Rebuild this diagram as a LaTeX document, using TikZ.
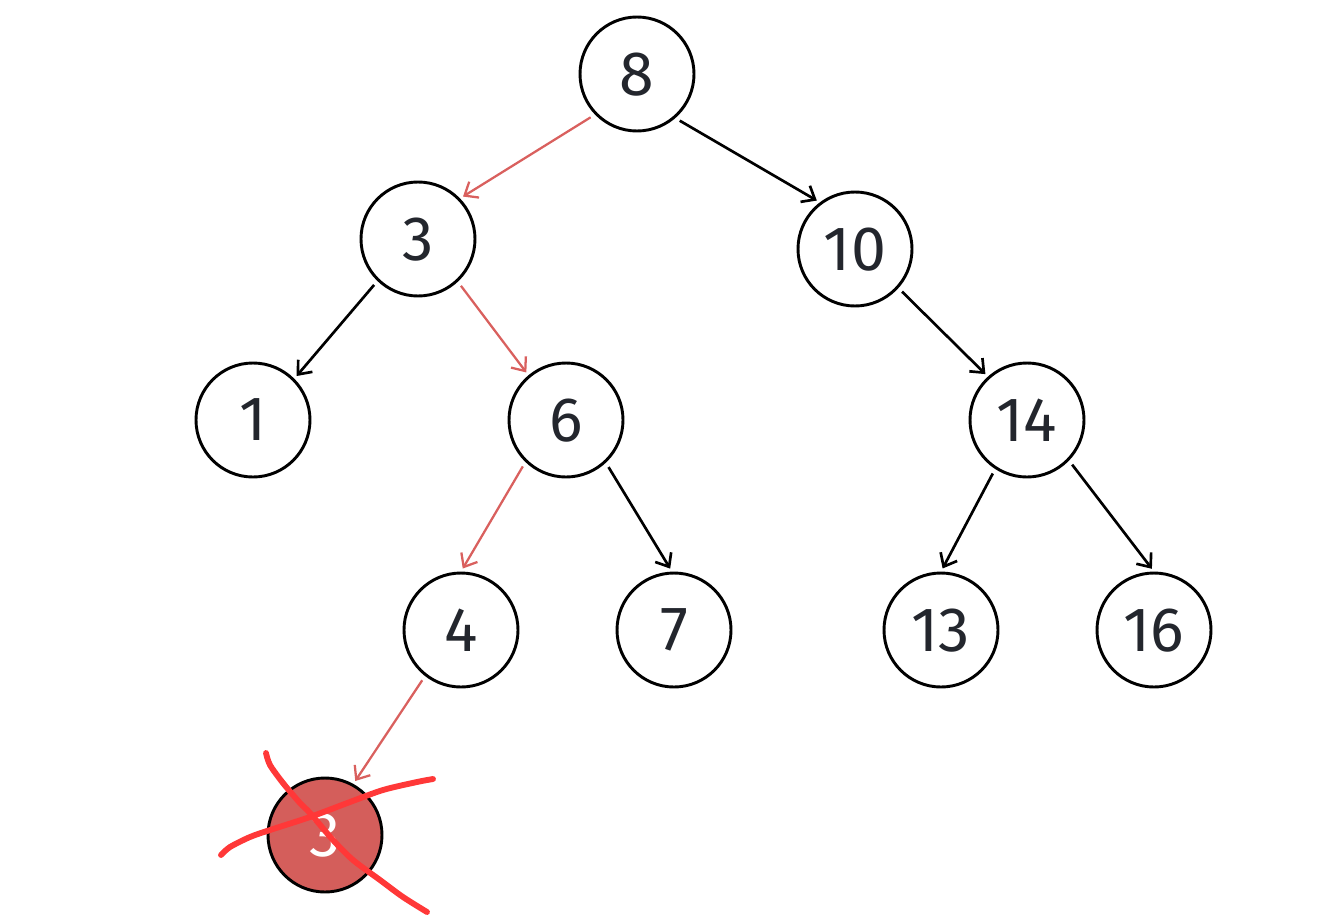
\documentclass[tikz,border=0pt]{standalone}
\usepackage{fontspec}
\setmainfont{Fira Sans}
\usetikzlibrary{arrows.meta}
\definecolor{txt}{HTML}{23262D}
\definecolor{edgered}{HTML}{D9605E}
\definecolor{fillred}{HTML}{D45E5B}
\definecolor{crossred}{HTML}{FF3838}
\tikzset{
  bnode/.style={circle, draw=black, line width=2.2pt, minimum size=85.5pt, inner sep=0pt, text depth=0pt, font=\fontsize{47}{54}\selectfont\color{txt}},
  rnode/.style={bnode, fill=fillred, font=\fontsize{47}{54}\selectfont\color{white}},
  edge/.style={line width=2pt, black, -{Straight Barb[length=8.5pt,width=14pt,line width=2pt]}, shorten <=3.8pt, shorten >=2.6pt},
  redge/.style={edge, edgered, line width=1.7pt, -{Straight Barb[length=8.5pt,width=14pt,line width=1.7pt]}},
  crossline/.style={crossred, line width=4.4pt, line cap=round, line join=round}
}
\begin{document}
\begin{tikzpicture}[x=0.75pt,y=-0.75pt]
\useasboundingbox (0,0) rectangle (1317,914);
\node[bnode] (n8) at (637,74) {8};
\node[bnode] (n3) at (418,239) {3};
\node[bnode] (n10) at (855,249) {10};
\node[bnode] (n1) at (253,420) {1};
\node[bnode] (n6) at (566,420) {6};
\node[bnode] (n14) at (1027,420) {14};
\node[bnode] (n4) at (461,630) {4};
\node[bnode] (n7) at (674,630) {7};
\node[bnode] (n13) at (941,630) {13};
\node[bnode] (n16) at (1154,630) {16};
\node[rnode] (r3) at (325,835) {3};

\draw[redge] (n8.224) -- (n3.44);
\draw[edge] (n8.311) -- (n10.127);
\draw[edge] (n3.226) -- (n1.45);
\draw[redge] (n3.313) -- (n6.130);
\draw[edge] (n10.318) -- (n14.132);
\draw[redge] (n6.226) -- (n4.90);
\draw[edge] (n6.313) -- (n7.92);
\draw[edge] (n14.237) -- (n13.90);
\draw[edge] (n14.316) -- (n16.90);
\draw[redge] (n4.232) -- (r3.61);

\draw[crossline] plot[smooth] coordinates {(266,753) (270,765) (283,783) (300,803) (310,813) (333,840) (353,860) (380,880) (403,897) (427,912)};
\draw[crossline] plot[smooth] coordinates {(221,855) (230,847) (250,837) (270,830) (310,817) (350,802) (383,790) (417,782) (433,779)};
\end{tikzpicture}
\end{document}
